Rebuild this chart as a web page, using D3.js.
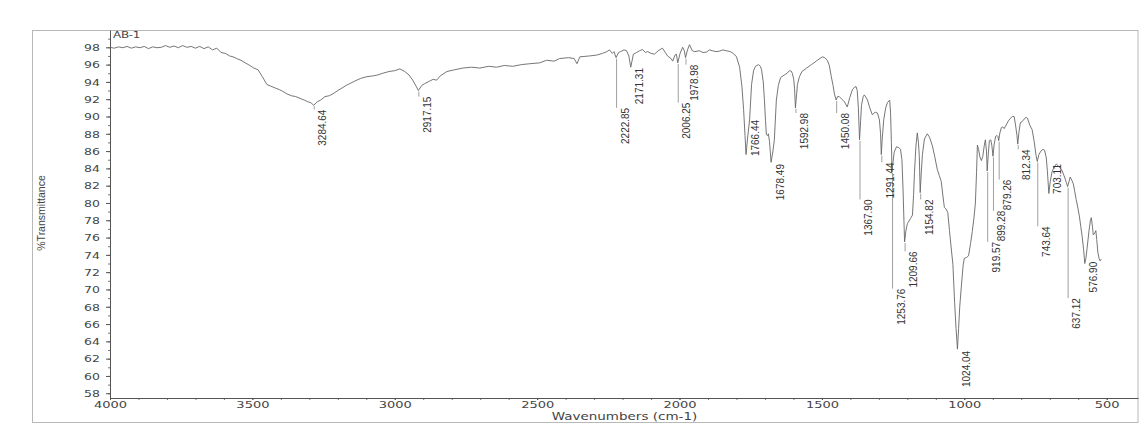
<!DOCTYPE html>
<html>
<head>
<meta charset="utf-8">
<script src="https://cdn.jsdelivr.net/npm/d3@7/dist/d3.min.js"></script>
<style>
  html, body { margin: 0; padding: 0; background: #fff; }
  svg { display: block; }
  .tick text { fill: #444; }
</style>
</head>
<body>
<div id="chart"></div>
<script>
// Spectrum trace: wavenumber (cm-1) and %T.
const wavenumbers = [
  4000, 3985, 3970, 3955, 3940, 3925, 3910, 3895, 3880, 3865, 3850, 3835, 3820, 3805, 3790, 3775,
  3760, 3745, 3730, 3715, 3700, 3685, 3670, 3655, 3640, 3625, 3610, 3595, 3580, 3568, 3555, 3540,
  3525, 3509, 3495, 3480, 3465, 3449, 3435, 3420, 3405, 3393, 3378, 3363, 3348, 3333, 3318, 3305,
  3295, 3284.64, 3272, 3260, 3245, 3230, 3218, 3200, 3185, 3170, 3158, 3140, 3120, 3098, 3075, 3060,
  3042, 3020, 3000, 2982, 2965, 2950, 2937, 2925, 2917.15, 2905, 2895, 2877, 2865, 2853, 2840, 2817,
  2790, 2761, 2730, 2702, 2670, 2642, 2615, 2586, 2555, 2526, 2491, 2467, 2440, 2421, 2390, 2370,
  2360, 2350, 2316, 2291, 2270, 2255, 2246, 2236, 2230, 2222.85, 2214, 2207, 2195, 2186, 2178, 2171.31,
  2162, 2151, 2140, 2130, 2120, 2112, 2100, 2088, 2075, 2060, 2050, 2042, 2030, 2024, 2016, 2011,
  2006.25, 1998, 1989, 1983, 1978.98, 1972, 1965, 1955, 1947, 1930, 1918, 1905, 1895, 1884, 1872, 1860,
  1848, 1835, 1822, 1814, 1805, 1800, 1789, 1781, 1775, 1770, 1766.44, 1761, 1754, 1747, 1740, 1733,
  1723, 1716, 1712, 1706, 1702, 1698, 1695, 1690, 1688, 1684, 1678.49, 1672, 1667, 1660, 1653, 1645,
  1632, 1622, 1614, 1608, 1604, 1599, 1596, 1592.98, 1589, 1586, 1579, 1570, 1554, 1545, 1537, 1528,
  1516, 1507, 1498, 1490, 1481, 1474, 1467, 1461, 1456, 1450.08, 1445, 1439, 1430, 1421, 1411, 1402,
  1393, 1385, 1380, 1376, 1372, 1367.90, 1364, 1361, 1355, 1351, 1345, 1340, 1332, 1323, 1313, 1305,
  1298, 1294, 1291.44, 1288, 1283, 1276, 1270, 1262, 1259, 1256, 1253.76, 1250, 1246, 1238, 1230, 1224,
  1219, 1215, 1212, 1209.66, 1205, 1200, 1189, 1182, 1178, 1175, 1170, 1165, 1161, 1158, 1154.82, 1151,
  1147, 1140, 1130, 1122, 1112, 1104, 1095, 1088, 1081, 1075, 1070, 1064, 1058, 1052, 1046, 1040,
  1034, 1029, 1024.04, 1020, 1016, 1010, 1004, 1000, 992, 985, 978, 972, 966, 961, 957, 954,
  950, 945, 940, 935, 930, 926, 922, 919.57, 916, 912, 907, 903, 899.28, 895, 890, 885,
  882, 879.26, 875, 870, 865, 860, 855, 850, 845, 838, 831, 825, 820, 815, 812.34, 808,
  803, 797, 790, 783, 778, 770, 762, 755, 748, 743.64, 738, 731, 724, 718, 712, 708,
  703.11, 698, 692, 684, 677, 670, 662, 656, 648, 642, 637.12, 632, 628, 622, 617, 612,
  607, 601, 596, 591, 586, 581, 576.90, 573, 569, 562, 557, 554, 550, 547, 542, 538,
  535, 531, 527, 523, 519
];
const transmittance = [
  98.0, 97.9, 98.05, 97.95, 98.1, 97.9, 98.05, 97.95, 98.1, 97.85, 98.05, 97.95, 98.0, 98.2, 98.0, 98.15,
  97.95, 98.2, 98.0, 98.1, 97.9, 98.1, 97.85, 98.05, 97.7, 97.9, 97.4, 97.3, 97.0, 96.9, 96.7, 96.5,
  96.2, 95.9, 95.6, 95.4, 94.6, 93.7, 93.5, 93.3, 93.1, 92.9, 92.6, 92.4, 92.3, 92.1, 91.9, 91.7,
  91.6, 91.3, 91.7, 91.9, 92.3, 92.4, 92.6, 93.0, 93.3, 93.6, 93.8, 94.1, 94.4, 94.6, 94.7, 94.8,
  95.0, 95.2, 95.3, 95.5, 95.2, 94.8, 94.2, 93.5, 93.0, 93.6, 93.8, 94.1, 94.3, 94.2, 94.7, 95.2,
  95.4, 95.6, 95.7, 95.6, 95.8, 95.7, 95.9, 95.8, 96.0, 96.1, 96.2, 96.5, 96.4, 96.7, 96.8, 96.7,
  96.1, 96.9, 97.0, 97.1, 97.3, 97.5, 97.7, 97.3, 97.5, 96.8, 97.4, 97.5, 97.7, 97.6, 97.0, 95.7,
  97.2, 97.4, 97.6, 97.75, 97.4, 97.5, 97.3, 97.2, 97.6, 97.9, 97.4, 97.0, 96.7, 96.4, 97.1, 97.2,
  96.2, 97.3, 98.0, 97.6, 96.8, 97.7, 98.3, 97.6, 97.5, 97.6, 97.4, 97.45, 97.7, 97.6, 97.5, 97.55,
  97.7, 97.6, 97.5, 97.35, 97.1, 96.9, 95.7, 93.5, 90.8, 87.8, 85.6, 87.5, 89.6, 93.7, 95.3, 95.8,
  96.0, 95.8, 95.4, 94.0, 92.0, 89.5, 87.9, 87.8, 88.0, 87.1, 84.7, 86.0, 87.3, 91.9, 93.6, 94.5,
  94.8, 95.0, 95.3, 95.25, 95.0, 94.3, 93.2, 91.0, 92.5, 93.7, 94.6, 95.2, 95.6, 95.8, 96.0, 96.2,
  96.5, 96.7, 96.9, 96.8, 96.5, 95.9, 94.6, 93.6, 92.6, 91.9, 92.3, 92.3, 92.0, 91.7, 91.1, 92.2,
  93.1, 93.4, 93.45, 93.0, 91.0, 87.3, 89.5, 91.3, 92.3, 92.5, 92.2, 91.9, 91.0, 90.2, 90.5, 90.4,
  89.6, 88.0, 85.6, 87.5, 89.6, 91.0, 91.6, 91.9, 90.5, 87.0, 83.6, 84.8, 85.9, 86.5, 86.4, 86.2,
  85.0, 81.5, 78.0, 75.5, 76.8, 77.6, 78.2, 78.6, 81.0, 83.5, 86.5, 88.1, 87.0, 85.4, 81.2, 83.5,
  85.6, 87.4, 88.0, 87.6, 86.6, 85.4, 83.9, 83.2, 82.5, 80.8, 79.5, 79.3, 78.9, 76.8, 74.8, 72.9,
  68.5, 65.5, 63.1, 65.5, 68.0, 70.5, 72.8, 73.6, 73.7, 73.9, 75.3, 76.7, 78.3, 80.0, 83.5, 86.7,
  86.2, 85.3, 84.9, 85.4, 86.6, 87.3, 86.0, 83.7, 85.5, 87.2, 87.3, 86.6, 85.4, 86.8, 87.7, 87.8,
  87.7, 87.2, 88.1, 88.7, 88.8, 88.6, 88.9, 89.2, 89.5, 89.8, 90.0, 90.0, 89.0, 87.8, 86.8, 88.2,
  89.3, 89.4, 89.7, 89.9, 89.8, 89.0, 88.5, 87.2, 85.5, 84.8, 85.6, 86.0, 86.2, 86.1, 85.2, 83.6,
  81.1, 82.5, 83.6, 84.2, 84.5, 84.3, 84.0, 83.7, 83.0, 82.4, 81.9, 82.5, 83.0, 82.6, 82.2, 81.3,
  80.4, 79.4, 78.5, 77.3, 76.1, 74.6, 73.0, 73.6, 74.7, 76.8, 78.0, 78.3, 77.3, 76.3, 76.5, 76.8,
  75.8, 74.3, 73.6, 73.3, 73.5
];

// Labelled peaks and the %T level at which each printed label begins.
const peakWavenumbers = [
  3284.64, 2917.15, 2222.85, 2171.31, 2006.25, 1978.98, 1766.44, 1678.49, 1592.98, 1450.08, 1367.90, 1291.44,
  1253.76, 1209.66, 1154.82, 1024.04, 919.57, 899.28, 879.26, 812.34, 743.64, 703.11, 637.12, 576.90
];
const peakLabelLevels = [
  90.8, 92.3, 91.0, 95.6, 91.6, 96.0, 89.6, 84.5, 90.4, 90.4, 80.4, 84.7,
  70.1, 74.4, 80.4, 62.9, 75.5, 79.1, 82.7, 86.2, 77.3, 84.5, 69.0, 73.2
];

const xTickValues = [4000, 3500, 3000, 2500, 2000, 1500, 1000, 500];
const yTickValues = [58, 60, 62, 64, 66, 68, 70, 72, 74, 76, 78, 80, 82, 84, 86, 88, 90, 92, 94, 96, 98];

const sampleName = 'AB-1';
const xTitle = 'Wavenumbers (cm-1)';
const yTitle = '%Transmittance';

const width = 1142;
const height = 427;
const plot = { left: 110, right: 1138, top: 30, bottom: 398 };
const tickFont = '"DejaVu Sans", Verdana, sans-serif';
const narrowFont = '"Liberation Sans Narrow", "Arial Narrow", sans-serif';
// The scanned printout is flattened vertically, so horizontal text gets squashed to match.
const squash = 0.72;

const x = d3.scaleLinear().domain([4000, 390]).range([plot.left, plot.right]);
const y = d3.scaleLinear().domain([57.45, 100]).range([plot.bottom, plot.top]);

const svg = d3.select('#chart')
  .append('svg')
  .attr('width', width)
  .attr('height', height)
  .attr('viewBox', `0 0 ${width} ${height}`);

// Places a horizontal text with its baseline at `baseline`, squashed vertically.
function squashText(text, baseline) {
  text.attr('dy', null)
    .attr('y', baseline / squash)
    .attr('transform', `scale(1,${squash})`);
}

// Page frame around the printout.
svg.append('rect')
  .attr('x', 32.5)
  .attr('y', plot.top + 0.5)
  .attr('width', plot.right - 32.5)
  .attr('height', 422 - plot.top)
  .attr('fill', 'none')
  .attr('stroke', '#b8b8b8');

// Minor ticks first, then the labelled axes on top.
svg.append('g')
  .attr('transform', `translate(${plot.left},0)`)
  .call(d3.axisLeft(y).tickValues(d3.range(58, 100, 1)).tickSize(2).tickSizeOuter(0).tickFormat(''))
  .call(g => g.select('.domain').remove())
  .call(g => g.selectAll('line').attr('stroke', '#777'));

svg.append('g')
  .attr('transform', `translate(0,${plot.bottom})`)
  .call(d3.axisBottom(x).tickValues(d3.range(500, 4001, 100)).tickSize(2).tickSizeOuter(0).tickFormat(''))
  .call(g => g.select('.domain').remove())
  .call(g => g.selectAll('line').attr('stroke', '#777'));

svg.append('g')
  .attr('transform', `translate(${plot.left},0)`)
  .call(d3.axisLeft(y).tickValues(yTickValues).tickSize(4).tickSizeOuter(0).tickPadding(6).tickFormat(d3.format('d')))
  .call(g => g.selectAll('text')
    .attr('font-family', tickFont)
    .attr('font-size', 12.5)
    .call(squashText, 3.3))
  .call(g => g.selectAll('line, path').attr('stroke', '#555'));

svg.append('g')
  .attr('transform', `translate(0,${plot.bottom})`)
  .call(d3.axisBottom(x).tickValues(xTickValues).tickSize(2).tickSizeOuter(0).tickFormat(d3.format('d')))
  .call(g => g.selectAll('text')
    .attr('font-family', tickFont)
    .attr('font-size', 13)
    .call(squashText, 10.4))
  .call(g => g.selectAll('line, path').attr('stroke', '#555'));

svg.append('text')
  .attr('x', (plot.left + plot.right) / 2 + 0.5)
  .attr('text-anchor', 'middle')
  .attr('font-family', tickFont)
  .attr('font-size', 13.5)
  .attr('fill', '#444')
  .call(squashText, 420)
  .text(xTitle);

svg.append('text')
  .attr('transform', 'translate(45,213) rotate(-90)')
  .attr('text-anchor', 'middle')
  .attr('font-family', narrowFont)
  .attr('font-size', 10.5)
  .attr('fill', '#444')
  .text(yTitle);

svg.append('text')
  .attr('x', plot.left + 3)
  .attr('font-family', tickFont)
  .attr('font-size', 12)
  .attr('letter-spacing', -0.3)
  .attr('fill', '#444')
  .call(squashText, 38.5)
  .text(sampleName);

const points = wavenumbers.map((wn, i) => ({ wn, t: transmittance[i] }));

svg.append('path')
  .datum(points)
  .attr('fill', 'none')
  .attr('stroke', '#666')
  .attr('stroke-width', 0.9)
  .attr('stroke-linejoin', 'round')
  .attr('d', d3.line().x(d => x(d.wn)).y(d => y(d.t)));

// Peak picks: a drop line from the minimum down to where the rotated label starts.
const peaks = peakWavenumbers.map((wn, i) => ({
  wn,
  t: transmittance[wavenumbers.indexOf(wn)],
  level: peakLabelLevels[i],
}));

svg.append('g')
  .selectAll('line')
  .data(peaks.filter(p => y(p.level) - y(p.t) > 3))
  .join('line')
  .attr('x1', p => x(p.wn) + 0.5)
  .attr('x2', p => x(p.wn) + 0.5)
  .attr('y1', p => y(p.t) + 1)
  .attr('y2', p => y(p.level))
  .attr('stroke', '#888')
  .attr('stroke-width', 0.8);

svg.append('g')
  .selectAll('text')
  .data(peaks)
  .join('text')
  .attr('transform', p => `translate(${x(p.wn) + 9},${y(p.level)}) rotate(-90)`)
  .attr('text-anchor', 'end')
  .attr('dy', '0.35em')
  .attr('font-family', narrowFont)
  .attr('font-size', 10)
  .attr('fill', '#333')
  .text(p => d3.format('.2f')(p.wn));
</script>
</body>
</html>
